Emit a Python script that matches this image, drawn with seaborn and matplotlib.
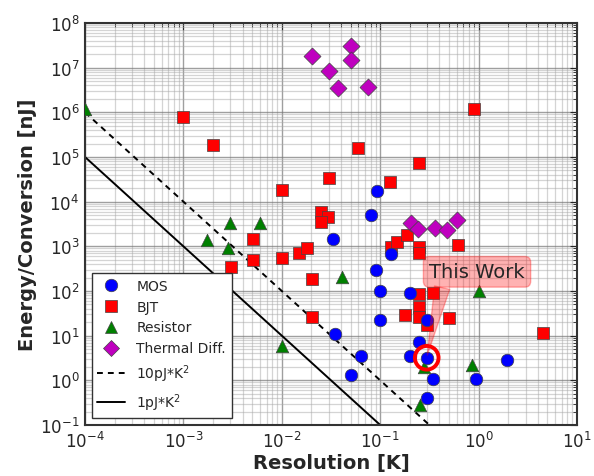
import numpy as np
import pandas as pd
import matplotlib
matplotlib.use("Agg")
import matplotlib.pyplot as plt
import seaborn as sns
from matplotlib.lines import Line2D

# ---------------- data ----------------
mos_res = [0.092, 0.080, 0.0329, 0.129, 0.0906, 0.0995, 0.201, 0.0995, 0.297,
           0.0348, 0.249, 0.0634, 0.201, 0.297, 1.96, 0.0501, 0.342, 0.935, 0.297]
mos_energy = [17700, 5070, 1470, 679, 298, 97.6, 89.8, 21.9, 23.0,
              11.0, 7.2, 3.49, 3.49, 3.2, 2.89, 1.29, 1.09, 1.09, 0.40]

bjt_res = [0.001, 0.002, 0.01, 0.03, 0.0248, 0.0297, 0.0248, 0.00506, 0.00506,
           0.00303, 0.0101, 0.0151, 0.0179, 0.0201, 0.0201, 0.904, 0.060, 0.249,
           0.126, 0.129, 0.147, 0.187, 0.249, 0.249, 0.622, 0.249, 0.344, 0.247,
           0.179, 0.249, 0.50, 0.297, 4.55]
bjt_energy = [8.0e5, 1.87e5, 1.87e4, 3.4e4, 5820, 4500, 3480, 1470, 507,
              353, 553, 716, 912, 188, 26.1, 1.19e6, 1.6e5, 72600,
              28200, 960, 1280, 1810, 960, 716, 1080, 86.5, 91.2, 44.4,
              28.9, 25.8, 24.3, 16.9, 11.4]

res_res = [1.0e-4, 0.00298, 0.0060, 0.00175, 0.00282, 0.00998, 0.0406, 1.01, 0.851, 0.254, 0.28]
res_energy = [1.2e6, 3360, 3360, 1400, 912, 6.0, 211, 100, 2.23, 0.274, 2.0]

td_res = [0.0201, 0.0501, 0.0501, 0.0302, 0.037, 0.0752, 0.207, 0.242, 0.360, 0.474, 0.600]
td_energy = [1.85e7, 3.1e7, 1.49e7, 8.3e6, 3.46e6, 3.65e6, 3300, 2430, 2510, 2300, 3950]

this_work = (0.297, 3.2)
label_pos = (0.964, 269)

fom_consts = [1e-2, 1e-3]          # nJ*K^2  (10 pJ*K^2, 1 pJ*K^2)
fom_labels = ["10pJ*K$^2$", "1pJ*K$^2$"]
line_res = np.array([1e-4, 10.0])

xticks = [1e-4, 1e-3, 1e-2, 1e-1, 1e0, 1e1]
yticks = [1e-1, 1e0, 1e1, 1e2, 1e3, 1e4, 1e5, 1e6, 1e7, 1e8]

# ---------------- style ----------------
sns.set_style("white")
plt.rcParams['font.family'] = ['DejaVu Sans']
plt.rcParams['mathtext.fontset'] = 'dejavusans'

fig = plt.figure(figsize=(5.94, 4.77), dpi=100)
ax = fig.add_axes([85/594, 1 - 426/477, (577-85)/594, (426-24)/477])

ax.set_xscale('log')
ax.set_yscale('log')
ax.set_xlim(1e-4, 10)
ax.set_ylim(1e-1, 1e8)

ax.grid(True, which='major', color='#777777', alpha=0.7, lw=1.0)
ax.grid(True, which='minor', color='#aaaaaa', alpha=0.5, lw=0.9)
ax.set_axisbelow(True)

# reference lines
dash = (0, (3.0, 2.6))
line_styles = [dash, '-']
for k, lab, ls in zip(fom_consts, fom_labels, line_styles):
    df_l = pd.DataFrame({'x': line_res, 'y': k / line_res**2})
    sns.lineplot(data=df_l, x='x', y='y', ax=ax, color='k', lw=1.4,
                 linestyle=ls, legend=False, zorder=2)

ms = 82
ekw = dict(edgecolor='#444444', linewidth=0.5, zorder=3)
sns.scatterplot(x=bjt_res, y=bjt_energy, marker='s', color='#ff0000', s=ms, ax=ax, legend=False, **ekw)
sns.scatterplot(x=res_res, y=res_energy, marker='^', color='#008000', s=ms, ax=ax, legend=False, **ekw)
sns.scatterplot(x=mos_res, y=mos_energy, marker='o', color='#0000ff', s=ms, ax=ax, legend=False, **ekw)
sns.scatterplot(x=td_res, y=td_energy, marker='D', color='#bf00bf', s=75, ax=ax, legend=False, **ekw)

# this work marker
ax.scatter([this_work[0]], [this_work[1]], s=290, facecolors='none',
           edgecolors='#ff0000', linewidths=2.8, zorder=4)

ax.annotate('This Work', xy=this_work, xytext=label_pos, ha='center', va='center',
            fontsize=14, zorder=5,
            bbox=dict(boxstyle='round,pad=0.3', fc='#ff0000', ec='#ff0000', alpha=0.3),
            arrowprops=dict(arrowstyle='wedge,tail_width=0.8', fc='#ff0000',
                            ec='#ff0000', alpha=0.3, relpos=(0.15, 0.0),
                            shrinkA=0, shrinkB=2))

ax.set_xticks(xticks)
ax.set_yticks(yticks)
ax.tick_params(axis='both', which='major', labelsize=12, direction='in', length=5,
               top=True, right=True, pad=4)
ax.tick_params(axis='both', which='minor', direction='in', length=3, top=True, right=True)

for sp in ax.spines.values():
    sp.set_color('#333333')
    sp.set_linewidth(1.5)

ax.set_xlabel('Resolution [K]', fontsize=14, fontweight='bold', labelpad=2)
ax.set_ylabel('Energy/Conversion [nJ]', fontsize=14, fontweight='bold', labelpad=2)

handles = [
    Line2D([], [], marker='o', color='#0000ff', ls='none', markersize=9, markeredgecolor='#444444', markeredgewidth=0.5),
    Line2D([], [], marker='s', color='#ff0000', ls='none', markersize=9, markeredgecolor='#444444', markeredgewidth=0.5),
    Line2D([], [], marker='^', color='#008000', ls='none', markersize=9, markeredgecolor='#444444', markeredgewidth=0.5),
    Line2D([], [], marker='D', color='#bf00bf', ls='none', markersize=8.5, markeredgecolor='#444444', markeredgewidth=0.5),
    Line2D([], [], color='k', ls=dash, lw=1.4),
    Line2D([], [], color='k', ls='-', lw=1.4),
]
labels = ['MOS', 'BJT', 'Resistor', 'Thermal Diff.'] + fom_labels
leg = ax.legend(handles, labels, loc='lower left', fontsize=10, fancybox=False,
                framealpha=1, edgecolor='#333333', borderaxespad=0.5, numpoints=1)
leg.get_frame().set_linewidth(1.0)
leg.set_zorder(6)

fig.savefig('out.png', dpi=100)
